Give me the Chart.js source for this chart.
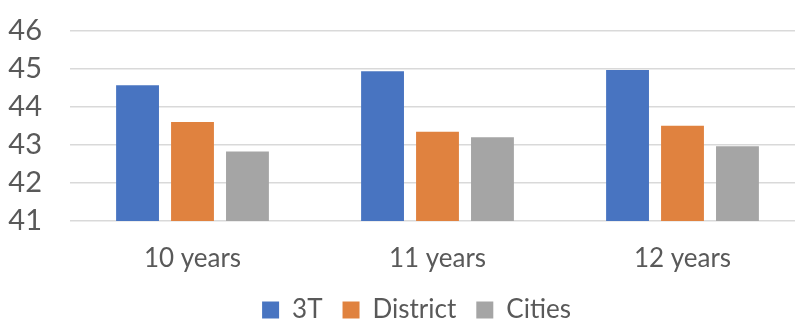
<!DOCTYPE html>
<html>
<head>
<meta charset="utf-8">
<script src="https://cdn.jsdelivr.net/npm/chart.js@4"></script>
<style>
  html, body { margin: 0; padding: 0; background: #fff; overflow: hidden; }
  #wrap { width: 795px; height: 320px; overflow: hidden; }
  #barChart { display: block; margin-top: -15px; }
</style>
</head>
<body>
<div id="wrap"><canvas id="barChart" width="810" height="348"></canvas></div>
<script>
// ======= Данные =======
const categories = ['10 years', '11 years', '12 years'];
const series3T = [44.56, 44.93, 44.96];
const seriesDistrict = [43.60, 43.34, 43.50];
const seriesCities = [42.82, 43.20, 42.96];
const yTicks = [41, 42, 43, 44, 45, 46];

const textColor = '#595959';
const fontFamily = 'Lato, "Open Sans", sans-serif';

// сдвиг легенды немного вправо, как в оригинале
const legendShift = {
    id: 'legendShift',
    afterLayout(chart) {
        if (chart.legend) {
            chart.legend.left += 14;
            chart.legend.right += 14;
        }
    }
};

new Chart(document.getElementById('barChart').getContext('2d'), {
    type: 'bar',
    data: {
        labels: categories,
        datasets: [
            { label: '3T', data: series3T, backgroundColor: '#4874C1' },
            { label: 'District', data: seriesDistrict, backgroundColor: '#E0823F' },
            { label: 'Cities', data: seriesCities, backgroundColor: '#A5A5A5' }
        ]
    },
    plugins: [legendShift],
    options: {
        responsive: false,
        animation: false,
        devicePixelRatio: 1,
        layout: { padding: { top: 0, right: 5, left: 0, bottom: 0 } },
        datasets: {
            bar: { barPercentage: 0.78, categoryPercentage: 0.673 }
        },
        plugins: {
            tooltip: { enabled: false },
            legend: {
                position: 'bottom',
                labels: {
                    color: textColor,
                    font: { family: fontFamily, size: 26, lineHeight: 1.2 },
                    boxWidth: 17,
                    boxHeight: 17,
                    padding: 20
                }
            }
        },
        scales: {
            x: {
                afterFit: (scale) => { scale.height = 56; },
                grid: { display: false },
                border: { display: false },
                ticks: {
                    color: textColor,
                    font: { family: fontFamily, size: 26, lineHeight: 1.2 },
                    padding: 14
                }
            },
            y: {
                min: yTicks[0],
                max: yTicks[yTicks.length - 1],
                afterFit: (scale) => { scale.width = 70; },
                afterBuildTicks: (scale) => { scale.ticks = yTicks.map(v => ({ value: v })); },
                border: { display: false },
                grid: { color: '#D9D9D9', lineWidth: 1.5, drawTicks: false },
                ticks: {
                    autoSkip: false,
                    color: textColor,
                    font: { family: fontFamily, size: 29, lineHeight: 1.2 },
                    padding: 28
                }
            }
        }
    }
});
</script>
</body>
</html>
